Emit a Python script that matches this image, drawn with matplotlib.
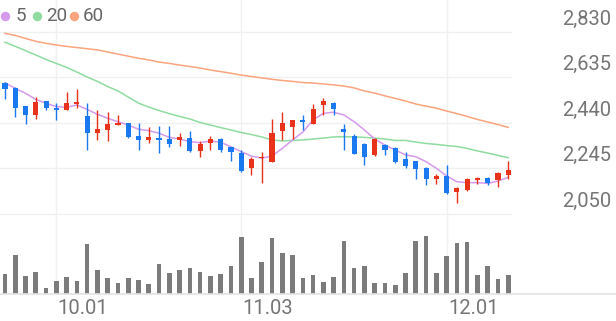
import matplotlib
matplotlib.use("Agg")
import matplotlib.pyplot as plt
from matplotlib.lines import Line2D
import numpy as np

plt.rcParams['font.family'] = ['Roboto', 'DejaVu Sans']

# ---------------- data ----------------
opens = [2610, 2590, 2510, 2475, 2535, 2505, 2495, 2520, 2470, 2395,
         2410, 2430, 2440, 2385, 2365, 2375, 2370, 2365, 2375, 2320,
         2355, 2370, 2335, 2310, 2245, 2290, 2270, 2405, 2420, 2450,
         2435, 2515, 2525, 2415, 2385, 2350, 2300, 2345, 2330, 2285,
         2275, 2245, 2200, 2210, 2145, 2150, 2195, 2203, 2195, 2215]
highs = [2615, 2595, 2510, 2550, 2535, 2525, 2570, 2585, 2525, 2495,
         2485, 2475, 2440, 2440, 2420, 2425, 2425, 2395, 2405, 2360,
         2385, 2375, 2335, 2325, 2295, 2315, 2455, 2485, 2450, 2475,
         2520, 2545, 2527, 2435, 2390, 2352, 2373, 2347, 2337, 2315,
         2277, 2250, 2220, 2260, 2163, 2202, 2207, 2206, 2230, 2275]
lows = [2540, 2465, 2435, 2455, 2495, 2450, 2495, 2505, 2325, 2365,
        2360, 2430, 2375, 2325, 2355, 2310, 2337, 2340, 2315, 2295,
        2323, 2315, 2277, 2230, 2215, 2180, 2270, 2365, 2370, 2410,
        2435, 2473, 2473, 2325, 2305, 2260, 2297, 2300, 2266, 2245,
        2200, 2175, 2177, 2135, 2095, 2148, 2177, 2173, 2165, 2200]
closes = [2585, 2505, 2475, 2530, 2505, 2495, 2525, 2530, 2395, 2415,
          2435, 2440, 2380, 2365, 2380, 2365, 2350, 2380, 2320, 2350,
          2370, 2325, 2315, 2235, 2285, 2295, 2395, 2440, 2450, 2445,
          2500, 2535, 2500, 2400, 2305, 2295, 2370, 2325, 2270, 2255,
          2240, 2200, 2210, 2140, 2160, 2200, 2205, 2183, 2225, 2237]
volumes = [203, 390, 180, 223, 63, 130, 170, 130, 503, 237,
           157, 110, 157, 137, 103, 297, 213, 237, 257, 223,
           180, 203, 280, 570, 157, 323, 563, 407, 390, 157,
           190, 123, 166, 526, 260, 276, 110, 113, 90, 213,
           533, 580, 213, 376, 510, 523, 190, 283, 153, 193]
ma5 = [2611, 2587, 2566, 2540, 2523, 2509, 2506, 2516, 2497, 2476,
       2459, 2444, 2430, 2412, 2406, 2395, 2377, 2370, 2359, 2354,
       2362, 2356, 2337, 2316, 2297, 2288, 2297, 2330, 2366, 2400,
       2452, 2480, 2485, 2473, 2444, 2409, 2370, 2344, 2323, 2302,
       2294, 2273, 2245, 2212, 2187, 2183, 2183, 2180, 2190, 2206]
ma20 = [2785, 2767, 2749, 2730, 2711, 2694, 2677, 2657, 2636, 2617,
        2595, 2576, 2550, 2524, 2507, 2492, 2479, 2467, 2456, 2441,
        2430, 2419, 2409, 2398, 2389, 2379, 2366, 2362, 2364, 2366,
        2370, 2374, 2379, 2380, 2379, 2377, 2374, 2370, 2364, 2364,
        2357, 2351, 2347, 2342, 2338, 2330, 2319, 2310, 2300, 2290]
ma60 = [2823, 2814, 2801, 2789, 2780, 2773, 2767, 2762, 2757, 2752,
        2743, 2734, 2725, 2716, 2709, 2700, 2694, 2687, 2681, 2674,
        2666, 2659, 2652, 2644, 2638, 2632, 2626, 2621, 2617, 2612,
        2610, 2606, 2602, 2597, 2589, 2576, 2567, 2555, 2544, 2533,
        2520, 2511, 2502, 2490, 2479, 2467, 2454, 2443, 2432, 2420]
y_ticks = [2830, 2635, 2440, 2245, 2050]
date_idx = [5, 23, 43]
date_labels = ["10.01", "11.03", "12.01"]
legend_labels = ["5", "20", "60"]

# ---------------- style ----------------
W, H = 616, 321
UP = "#e8321a"
DOWN = "#1a78f0"
C5, C20, C60 = "#d59aec", "#8fdba0", "#fba47e"
GRID = "#f0f0f0"
TXT = "#757575"

fig = plt.figure(figsize=(W / 100, H / 100), dpi=100)
fig.patch.set_facecolor("white")

step = 10.27
x0 = 5
xlim = (-x0 / step, (W - x0) / step)

# price axes: pixel rows 0..220
ax = fig.add_axes([0, 1 - 220 / H, 1, 220 / H])
ppx = 45.5 / 195.0  # px per price unit
top_p = 2830 + 31.7 / ppx
bot_p = 2830 - (220 - 31.7) / ppx
ax.set_ylim(bot_p, top_p)
ax.set_xlim(*xlim)
ax.axis("off")

# volume axes: pixel rows 220..294
axv = fig.add_axes([0, 1 - 294 / H, 1, 74 / H])
axv.set_xlim(*xlim)
axv.set_ylim(0, 740)
for s in ["top", "left", "right"]:
    axv.spines[s].set_visible(False)
axv.spines["bottom"].set_color("#e3e3e3")
axv.spines["bottom"].set_linewidth(1.2)
axv.set_xticks([])
axv.set_yticks([])
axv.patch.set_alpha(0)

x = np.arange(len(opens))

# grid lines
for t in y_ticks:
    ax.axhline(t, xmin=0, xmax=511 / W, color=GRID, lw=1.0, zorder=0)
    ax.annotate(f"{t:,}", xy=(611 / W, t), xycoords=("figure fraction", "data"),
                xytext=(0, 5), textcoords="offset points",
                ha="right", va="baseline", fontsize=14.5, color=TXT)
for i in date_idx:
    ax.axvline(i, color=GRID, lw=1.0, zorder=0)
    axv.axvline(i, color=GRID, lw=1.0, zorder=0)
for i, lab in zip(date_idx, date_labels):
    axv.annotate(lab, xy=(i, 0), xycoords="data", xytext=(1, -10.5),
                 textcoords="offset points", ha="left", va="center",
                 fontsize=14.5, color=TXT)

# moving averages
ax.plot(x, ma60, color=C60, lw=1.1, zorder=2)
ax.plot(x, ma20, color=C20, lw=1.1, zorder=2)
ax.plot(x, ma5, color=C5, lw=1.1, zorder=2)

# candles
o = np.array(opens); c = np.array(closes)
hi = np.array(highs); lo = np.array(lows)
colors = [UP if cc >= oo else DOWN for oo, cc in zip(o, c)]
ax.vlines(x, lo, hi, colors=colors, lw=1.0, zorder=3)
body_bottom = np.minimum(o, c)
body_h = np.maximum(np.abs(c - o), 4)
ax.bar(x, body_h, bottom=body_bottom, width=0.5, color=colors, zorder=4, linewidth=0)

# volume bars
axv.bar(x, volumes, width=0.45, color="#7b7b7b", linewidth=0, zorder=2)

# legend
leg_items = [(5, C5, 15.5), (37.3, C20, 46), (74, C60, 82.5)]
for (cx, col, tx), lab in zip(leg_items, legend_labels):
    fig.add_artist(Line2D([cx / W], [1 - 15.7 / H], marker="o", markersize=6.8,
                          color=col, markeredgewidth=0, transform=fig.transFigure))
    fig.text(tx / W, 1 - 15.7 / H, lab, ha="left", va="center",
             fontsize=13.5, color="#666666")

fig.savefig("out.png", dpi=100, facecolor="white")
